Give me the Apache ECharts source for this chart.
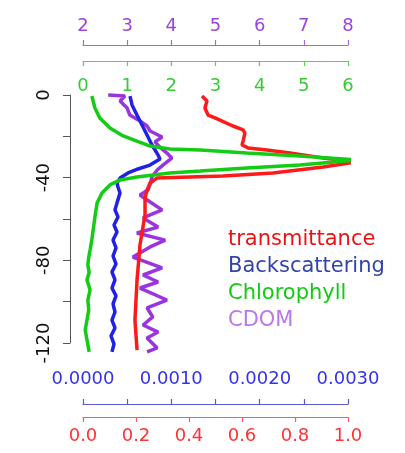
<!DOCTYPE html>
<html>
<head>
<meta charset="utf-8">
<script src="https://cdn.jsdelivr.net/npm/echarts@6/dist/echarts.min.js"></script>
<style>
body{margin:0;background:#fff;}
#profile{width:405px;height:453px;}
</style>
</head>
<body>
<div id="profile"></div>
<script>
// depth (m, positive down) and value for each profile
var redDepth = [0.5, 2.9, 6.3, 9.7, 11.1, 12.6, 15, 16.9, 18.4, 22.3, 24.2, 25.6, 26.6, 28.1, 30.5, 32.4, 34.8, 37.7, 39.2, 39.7, 40.2, 42.6, 46, 49.8, 58, 72.6, 89.5, 108.9, 123.4];
var redVal   = [0.449, 0.468, 0.46, 0.472, 0.498, 0.525, 0.566, 0.604, 0.611, 0.604, 0.6, 0.623, 0.694, 0.781, 0.906, 1.034, 0.906, 0.717, 0.528, 0.404, 0.279, 0.253, 0.242, 0.234, 0.234, 0.215, 0.204, 0.196, 0.204];

var blueDepth = [0.5, 4.8, 9.7, 14.5, 19.4, 24.2, 29, 31, 33.9, 35.8, 37.7, 40.2, 42.6, 44.5, 47.4, 52.2, 55.6, 59, 62.9, 66.3, 70.2, 74, 77.9, 81.8, 85.6, 89.5, 93.4, 97.2, 101.1, 105, 108.9, 112.7, 116.6, 120.5, 124.3];
var blueVal   = [0.000532, 0.000555, 0.000611, 0.000668, 0.000725, 0.000781, 0.000849, 0.000872, 0.000758, 0.000623, 0.00051, 0.000419, 0.000385, 0.000396, 0.000419, 0.000385, 0.000362, 0.000396, 0.000351, 0.000385, 0.00034, 0.000374, 0.00034, 0.000374, 0.000328, 0.000362, 0.000328, 0.000374, 0.00034, 0.000362, 0.000328, 0.000362, 0.000317, 0.000351, 0.000328];

var greenDepth = [0.5, 6.3, 11.1, 16, 19.8, 22.3, 24.7, 26.1, 26.6, 28.1, 29.5, 31.4, 33.9, 35.3, 36.8, 37.7, 39.7, 41.1, 43.5, 47.4, 52.2, 59, 65.3, 70, 75, 78.5, 82.2, 85.8, 89.5, 94.3, 99.2, 104, 108.9, 113.7, 118.5, 124.3];
var greenVal   = [0.2, 0.27, 0.38, 0.61, 0.91, 1.22, 1.52, 1.97, 2.65, 3.71, 4.91, 6.23, 4.91, 3.71, 2.65, 1.97, 1.22, 0.84, 0.61, 0.43, 0.32, 0.27, 0.23, 0.2, 0.16, 0.13, 0.11, 0.14, 0.09, 0.16, 0.11, 0.13, 0.09, 0.05, 0.09, 0.14];

var cdomDepth = [0, 0.5, 2.9, 6.3, 9.7, 12.6, 15, 17.4, 20.3, 22.7, 25.2, 28.1, 30.5, 33.9, 36.3, 39.7, 43.1, 46, 48.4, 51.8, 55.6, 59.5, 63.9, 66.8, 70.2, 73.5, 78.4, 83.7, 87.1, 90.5, 93.4, 99.2, 103, 107.4, 111.3, 114.7, 117.6, 122.4, 124.3];
var cdomVal   = [2.57, 2.95, 2.84, 3.0, 3.06, 3.29, 3.45, 3.52, 3.79, 3.63, 3.74, 3.9, 4.01, 3.81, 3.68, 3.56, 3.52, 3.47, 3.29, 3.52, 3.79, 3.36, 3.7, 3.22, 3.86, 3.52, 3.13, 3.79, 3.36, 3.7, 3.29, 3.9, 3.45, 3.58, 3.36, 3.7, 3.45, 3.68, 3.45];

var names = ['transmittance', 'Backscattering', 'Chlorophyll', 'CDOM'];

function pairs(vals, depths){
	var out = [];
	for(var i=0;i<vals.length;i++){ out.push([vals[i], -depths[i]]); }
	return out;
}

function xaxis(pos, offset, min, max, step, color, lineColor, inside, margin, fmt){
	return {
		type: 'value', position: pos, offset: offset,
		min: min, max: max, interval: step,
		splitLine: {show: false},
		axisLine: {show: true, onZero: false, lineStyle: {color: lineColor, width: 1.2}},
		axisTick: {show: true, inside: inside, length: 5, lineStyle: {color: lineColor, width: 1.2}},
		axisLabel: {inside: inside, margin: margin, color: color, fontSize: 18,
			fontFamily: 'DejaVu Sans', formatter: fmt}
	};
}

function profile(id){
	var option = {
		animation: false,
		backgroundColor: '#fff',
		grid: {left: 83, right: 57, top: 95, bottom: 110},
		legend: {
			orient: 'vertical', left: 218, top: 224, icon: 'none',
			itemWidth: 0, itemGap: 6,
			textStyle: {fontSize: 21, fontFamily: 'DejaVu Sans'},
			data: [
				{name: names[0], textStyle: {color: '#ee1111'}},
				{name: names[1], textStyle: {color: '#3344aa'}},
				{name: names[2], textStyle: {color: '#11cc11'}},
				{name: names[3], textStyle: {color: '#bb77ee'}}
			]
		},
		xAxis: [
			xaxis('top', 50, 2, 8, 1, '#9b44dd', '#a865e0', false, 10, function(v){ return v; }),
			xaxis('top', 34, 0, 6, 1, '#33cc33', '#4fd84f', true, 16, function(v){ return v; }),
			xaxis('bottom', 61, 0, 0.003, 0.0005, '#3333ee', '#5a5ad8', true, 16, function(v){
				return Math.round(v*10000)%10===0 ? v.toFixed(4) : '';
			}),
			xaxis('bottom', 74, 0, 1, 0.2, '#ff3333', '#ff5a5a', false, 10, function(v){ return v.toFixed(1); })
		],
		yAxis: {
			type: 'value', min: -120, max: 0, interval: 20, offset: 13,
			splitLine: {show: false},
			axisLine: {show: true, onZero: false, lineStyle: {color: '#555'}},
			axisTick: {length: 7, lineStyle: {color: '#555'}},
			axisLabel: {rotate: 90, margin: 17, color: '#111', fontSize: 18, fontFamily: 'DejaVu Sans',
				formatter: function(v){ return v%40===0 ? String(v) : ''; }}
		},
		series: [
			{name: names[0], type: 'line', xAxisIndex: 3, z: 3, data: pairs(redVal, redDepth),
				showSymbol: false, clip: false, color: '#ff1a1a', lineStyle: {width: 3.5}},
			{name: names[1], type: 'line', xAxisIndex: 2, z: 2, data: pairs(blueVal, blueDepth),
				showSymbol: false, clip: false, color: '#2020e8', lineStyle: {width: 3.5}},
			{name: names[2], type: 'line', xAxisIndex: 1, z: 4, data: pairs(greenVal, greenDepth),
				showSymbol: false, clip: false, color: '#14cc14', lineStyle: {width: 3.5}},
			{name: names[3], type: 'line', xAxisIndex: 0, z: 1, data: pairs(cdomVal, cdomDepth),
				showSymbol: false, clip: false, color: '#9a35de', lineStyle: {width: 3.5}}
		]
	};
	var myChart = echarts.init(document.getElementById(id));
	myChart.setOption(option);
}

profile('profile');
</script>
</body>
</html>
